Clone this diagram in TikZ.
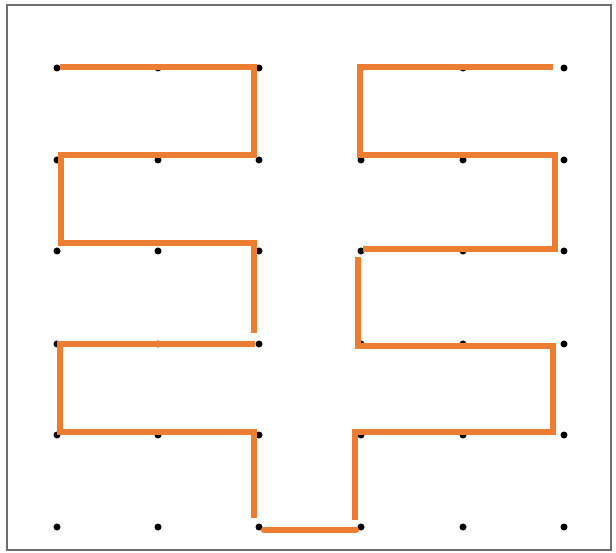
\documentclass[tikz,border=0pt]{standalone}
\definecolor{pathorange}{HTML}{ED7D31}
\definecolor{framegray}{HTML}{6E6E6E}
\begin{document}
\begin{tikzpicture}[x=1pt,y=-1pt,
  dotnode/.style={circle,fill=black,inner sep=0pt,minimum size=7pt},
  framebox/.style={draw=framegray,line width=2.5pt},
  route/.style={draw=pathorange,line width=6.5pt,line join=miter}]
\useasboundingbox (0,0) rectangle (616,553);
\draw[framebox] (7,5) rectangle (611,550);
% grid dots
\foreach \x [count=\i] in {57,158,259,361,463,564}{
  \foreach \y [count=\j] in {68,160,251,344,435,527}{
    \node[dotnode] (d\i\j) at (\x,\y) {};
  }
}
% orange route
\draw[route] (60,67) -- (254,67) -- (254,155) -- (61,155) -- (61,243) -- (254,243) -- (254,333);
\draw[route] (255,344) -- (60,344) -- (60,432) -- (254,432) -- (254,518);
\draw[route,line cap=round] (264,530) -- (356,530);
\draw[route] (355,520) -- (355,432) -- (553,432) -- (553,346) -- (358,346) -- (358,257);
\draw[route] (363,249) -- (555,249) -- (555,155) -- (360,155) -- (360,67) -- (553,67);
\end{tikzpicture}
\end{document}
